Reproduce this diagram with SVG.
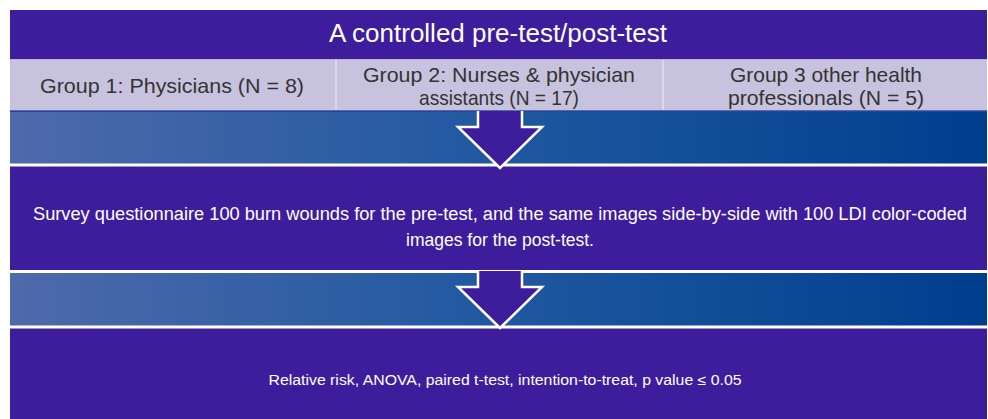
<svg xmlns="http://www.w3.org/2000/svg" width="988" height="419" viewBox="0 0 988 419">
<defs>
<linearGradient id="band" x1="0" y1="0" x2="1" y2="0">
<stop offset="0" stop-color="#4e6aab"/>
<stop offset="0.5" stop-color="#1f58a0"/>
<stop offset="1" stop-color="#003e8e"/>
</linearGradient>
<style>
.purple{fill:#3d1d9c}
.band{fill:url(#band)}
.wline{stroke:#ffffff;stroke-width:3;fill:none}
.arrow{fill:#3d1d9c;stroke:#ffffff;stroke-width:2.5;stroke-linejoin:miter}
.t{font-family:"Liberation Sans",Arial,sans-serif;text-anchor:middle}
.title{fill:#ffffff;font-size:25px}
.grp{fill:#333333;font-size:21px}
.body{fill:#ffffff;font-size:18px}
.small{fill:#ffffff;font-size:14px}
</style>
</defs>
<rect x="0" y="0" width="988" height="419" fill="#ffffff"/>
<g id="title">
<rect class="purple" x="10" y="10" width="977" height="409"/>
<text class="t title" x="498" y="42" textLength="338" lengthAdjust="spacingAndGlyphs">A controlled pre-test/post-test</text>
</g>
<g id="groups">
<rect x="10" y="59" width="977" height="52" fill="#c7c3de"/>
<line x1="10" y1="59.5" x2="987" y2="59.5" stroke="#b9b2dc" stroke-width="1"/>
<line x1="10" y1="111" x2="987" y2="111" stroke="#2a4f96" stroke-width="1.5"/>
<line x1="336" y1="60" x2="336" y2="110" stroke="#dcd8ec" stroke-width="2"/>
<line x1="663" y1="60" x2="663" y2="110" stroke="#dcd8ec" stroke-width="2"/>
</g>
<g id="group1">
<text class="t grp" x="172" y="93" textLength="264" lengthAdjust="spacingAndGlyphs">Group 1: Physicians (N = 8)</text>
</g>
<g id="group2">
<text class="t grp" x="499" y="82" textLength="272" lengthAdjust="spacingAndGlyphs">Group 2: Nurses &amp; physician</text>
<text class="t grp" x="499" y="105" textLength="160" lengthAdjust="spacingAndGlyphs">assistants (N = 17)</text>
</g>
<g id="group3">
<text class="t grp" x="826" y="82" textLength="192" lengthAdjust="spacingAndGlyphs">Group 3 other health</text>
<text class="t grp" x="826" y="105" textLength="196" lengthAdjust="spacingAndGlyphs">professionals (N = 5)</text>
</g>
<g id="band1">
<rect class="band" x="10" y="112" width="977" height="52"/>
<line class="wline" x1="10" y1="165" x2="987" y2="165"/>
</g>
<g id="survey">
<text class="t body" x="500" y="220" textLength="934" lengthAdjust="spacingAndGlyphs">Survey questionnaire 100 burn wounds for the pre-test, and the same images side-by-side with 100 LDI color-coded</text>
<text class="t body" x="500" y="246" textLength="188" lengthAdjust="spacingAndGlyphs">images for the post-test.</text>
</g>
<g id="band2">
<rect class="band" x="10" y="272" width="977" height="54"/>
<line class="wline" x1="10" y1="271.5" x2="987" y2="271.5"/>
<line class="wline" x1="10" y1="327" x2="987" y2="327"/>
</g>
<g id="results">
<text class="t small" x="505" y="385" textLength="473" lengthAdjust="spacingAndGlyphs">Relative risk, ANOVA,  paired t-test, intention-to-treat, p value ≤ 0.05</text>
</g>
<g id="connectors">
<path class="arrow" d="M478,111 L478,127 L458,127 L500,168 L542,127 L522,127 L522,111"/>
<path class="arrow" d="M478,271 L478,287 L458,287 L500,328 L542,287 L522,287 L522,271"/>
</g>
</svg>
